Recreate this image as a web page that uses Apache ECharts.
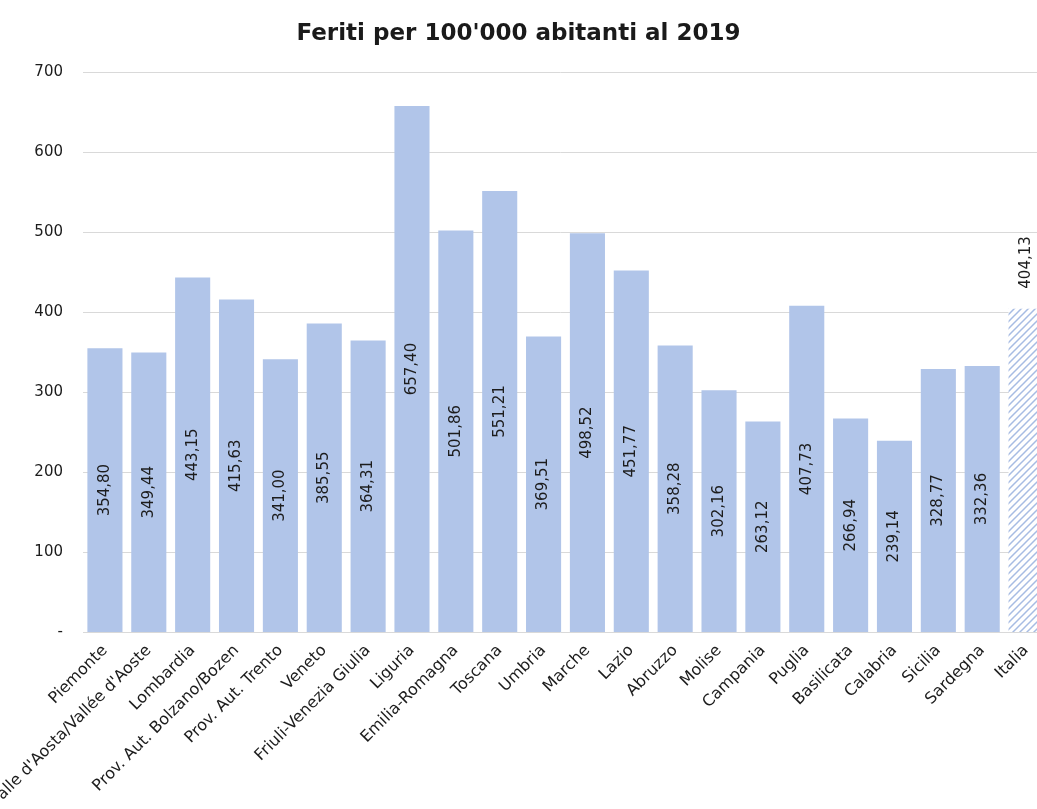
<!DOCTYPE html>
<html>
<head>
<meta charset="utf-8">
<script src="https://cdn.jsdelivr.net/npm/echarts@6/dist/echarts.min.js"></script>
<style>
  html, body { margin: 0; padding: 0; background: #ffffff; overflow: hidden; }
  #chart { width: 1037px; height: 809px; }
</style>
</head>
<body>
<div id="chart"></div>
<script>
// Regions (plus the national figure at the end)
const regions = [
  'Piemonte', "Valle d'Aosta/Vallée d'Aoste", 'Lombardia', 'Prov. Aut. Bolzano/Bozen',
  'Prov. Aut. Trento', 'Veneto', 'Friuli-Venezia Giulia', 'Liguria', 'Emilia-Romagna',
  'Toscana', 'Umbria', 'Marche', 'Lazio', 'Abruzzo', 'Molise', 'Campania', 'Puglia',
  'Basilicata', 'Calabria', 'Sicilia', 'Sardegna', 'Italia'
];
// Injured per 100,000 inhabitants, 2019
const feriti = [
  354.80, 349.44, 443.15, 415.63, 341.00, 385.55, 364.31, 657.40, 501.86,
  551.21, 369.51, 498.52, 451.77, 358.28, 302.16, 263.12, 407.73, 266.94,
  239.14, 328.77, 332.36, 404.13
];
const yTicks = [0, 100, 200, 300, 400, 500, 600, 700];
const totalCategory = 'Italia';

const barColor = '#b1c5e9';
const textColor = '#1c1c1c';
const fontFamily = 'DejaVu Sans';
const fmt = v => v.toFixed(2).replace('.', ',');

// Diagonal hatch fill for the national bar
function hatchPattern() {
  const c = document.createElement('canvas');
  c.width = 7; c.height = 7;
  const ctx = c.getContext('2d');
  ctx.fillStyle = '#ffffff';
  ctx.fillRect(0, 0, 7, 7);
  ctx.strokeStyle = '#a7bce3';
  ctx.lineWidth = 1.5;
  ctx.beginPath();
  ctx.moveTo(0, 7); ctx.lineTo(7, 0);
  ctx.moveTo(-2, 2); ctx.lineTo(2, -2);
  ctx.moveTo(5, 9); ctx.lineTo(9, 5);
  ctx.stroke();
  return { image: c, repeat: 'repeat' };
}

const data = regions.map((name, i) => {
  if (name === totalCategory) {
    return {
      value: feriti[i],
      itemStyle: { color: hatchPattern() },
      label: {
        position: 'top', rotate: 90, align: 'left', verticalAlign: 'middle',
        distance: 20
      }
    };
  }
  return { value: feriti[i] };
});

const chart = echarts.init(document.getElementById('chart'), null, { renderer: 'canvas' });
chart.setOption({
  backgroundColor: '#ffffff',
  animation: false,
  title: {
    text: "Feriti per 100'000 abitanti al 2019",
    left: 'center',
    top: 18,
    textStyle: { fontFamily: fontFamily, fontSize: 23, fontWeight: 'bold', color: '#1a1a1a' }
  },
  grid: {
    left: 83, top: 72, width: 965, height: 560,
    containLabel: false,
    outerBoundsMode: 'none'
  },
  xAxis: {
    type: 'category',
    data: regions,
    axisLine: { show: false },
    axisTick: { show: false },
    axisLabel: {
      interval: 0,
      rotate: 45,
      margin: 16,
      hideOverlap: false,
      fontFamily: fontFamily,
      fontSize: 16,
      color: textColor
    }
  },
  yAxis: {
    type: 'value',
    min: yTicks[0],
    max: yTicks[yTicks.length - 1],
    interval: 100,
    axisLine: { show: false },
    axisTick: { show: false },
    splitLine: { lineStyle: { color: '#d9d9d9', width: 1 } },
    axisLabel: {
      margin: 20,
      fontFamily: fontFamily,
      fontSize: 15,
      color: textColor,
      formatter: v => (v === 0 ? '-' : String(v))
    }
  },
  series: [{
    type: 'bar',
    data: data,
    barCategoryGap: '20%',
    itemStyle: { color: barColor },
    label: {
      show: true,
      position: 'inside',
      rotate: 90,
      fontFamily: fontFamily,
      fontSize: 15,
      color: textColor,
      formatter: p => fmt(p.value)
    }
  }]
});
</script>
</body>
</html>
